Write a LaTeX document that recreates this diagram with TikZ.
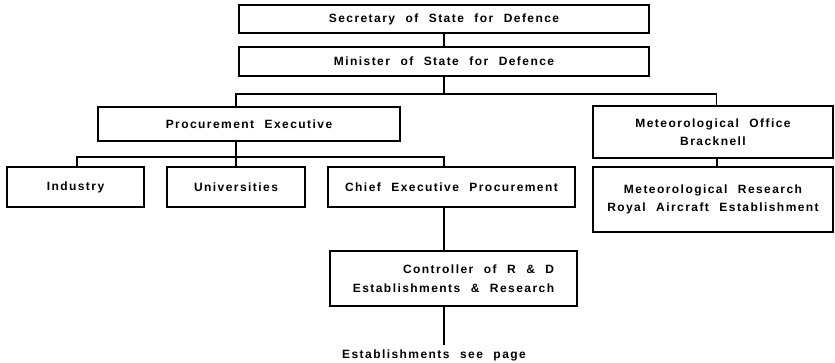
\documentclass[tikz,border=0pt]{standalone}
\usepackage{fontspec}
\setmainfont[LetterSpace=12,WordSpace=2.2]{Liberation Sans}
\begin{document}
\begin{tikzpicture}[x=1pt,y=-1pt,
  post/.style={draw,line width=1.6pt,inner sep=0pt,font=\bfseries\fontsize{12}{18.5}\selectfont},
  link/.style={line width=1.1pt}]
\useasboundingbox (0,0) rectangle (835,363);

\node[post,minimum width=410,minimum height=28] (sec) at (444,19) {Secretary of State for Defence};
\node[post,minimum width=410,minimum height=29] (min) at (444,61.5) {Minister of State for Defence};

\node[post,minimum width=302,minimum height=34] (proc) at (249,124) {Procurement Executive};
\node[post,minimum width=240,minimum height=52,align=center] (met) at (713,132)
  {Meteorological Office\\Bracknell};
\node[post,minimum width=240,minimum height=65,align=center] (metres) at (713,199.5)
  {Meteorological Research\\Royal Aircraft Establishment};

\node[post,minimum width=137,minimum height=40] (ind) at (75.5,187) {Industry};
\node[post,minimum width=138,minimum height=40] (uni) at (236,187) {Universities};
\node[post,minimum width=247,minimum height=40] (chief) at (451.5,187) {Chief Executive Procurement};

\node[post,minimum width=247,minimum height=55,align=right] (ctrl) at (453.5,278.5)
  {Controller of R \& D\\Establishments \& Research};
\node[font=\bfseries\fontsize{12}{12}\selectfont,inner sep=1pt] (estab) at (434,355) {Establishments see page};

\coordinate (top) at (444,94);
\coordinate (mid) at (236,157);

\draw[link] (sec.south) -- (min.north);
\draw[link] (min.south) -- (top);
\draw[link] (top) -| ([xshift=-13]proc.north);
\draw[link] (top) -| ([xshift=3.5]met.north);
\draw[link] ([xshift=4]met.south) -- ([xshift=4]metres.north);

\draw[link] ([xshift=-13]proc.south) -- (mid);
\draw[link] (mid) -| ([xshift=1.5]ind.north);
\draw[link] (mid) -- (uni.north);
\draw[link] (mid) -| ([xshift=-7.5]chief.north);

\draw[link] ([xshift=-7.5]chief.south) -- ([xshift=-9.5]ctrl.north);
\draw[link] ([xshift=-9.5]ctrl.south) -- ([xshift=10,yshift=3]estab.north);
\end{tikzpicture}
\end{document}
